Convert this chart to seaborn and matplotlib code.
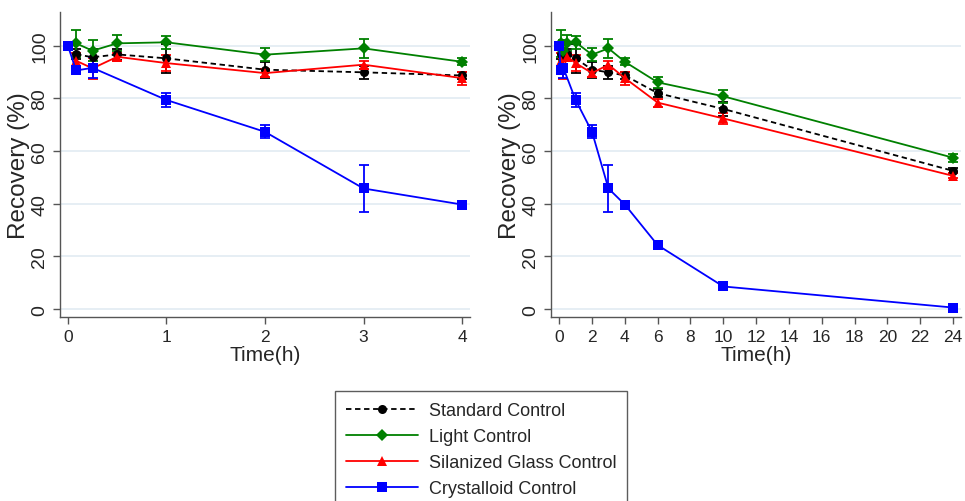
import numpy as np
import pandas as pd
import matplotlib
matplotlib.use("Agg")
import matplotlib.pyplot as plt
import seaborn as sns

sns.set_style("white")
plt.rcParams['font.family'] = ['Liberation Sans', 'DejaVu Sans']

# Sampling times (h)
times = [0, 0.083, 0.25, 0.5, 1, 2, 3, 4, 6, 10, 24]

# Mean recovery (%) per group
standard = [np.nan, 96.8, 95.6, 96.7, 95.2, 90.9, 89.9, 88.7, 82.0, 76.0, 52.5]
light = [np.nan, 100.9, 98.1, 100.9, 101.3, 96.6, 99.0, 93.9, 86.1, 80.8, 57.5]
silanized = [np.nan, 94.3, 91.4, 95.8, 93.4, 89.6, 92.8, 87.7, 78.4, 72.4, 50.6]
crystalloid = [100, 90.6, 91.6, np.nan, 79.4, 67.3, 45.8, 39.7, 24.3, 8.6, 0.6]

# Error bar half-widths
standard_err = [0, 2.0, 3.0, 2.0, 5.5, 3.0, 2.5, 1.5, 1.5, 2.5, 1.0]
light_err = [0, 5.0, 4.0, 3.0, 2.5, 2.5, 3.5, 1.3, 2.0, 2.5, 1.5]
silanized_err = [0, 3.0, 4.0, 1.5, 3.0, 1.5, 1.5, 2.5, 1.5, 2.0, 1.0]
crystalloid_err = [0, 1.5, 4.0, 0, 2.5, 2.5, 9.0, 0.8, 0.7, 0.7, 0.5]

groups = ['Standard Control', 'Light Control', 'Silanized Glass Control', 'Crystalloid Control']
means = [standard, light, silanized, crystalloid]
errs = [standard_err, light_err, silanized_err, crystalloid_err]
colors = {'Standard Control': 'black', 'Light Control': '#008000',
          'Silanized Glass Control': '#ff0000', 'Crystalloid Control': '#0000ff'}
markers = {'Standard Control': 'o', 'Light Control': 'D',
           'Silanized Glass Control': '^', 'Crystalloid Control': 's'}
dashes = {'Standard Control': (3, 2), 'Light Control': '',
          'Silanized Glass Control': '', 'Crystalloid Control': ''}

rows = []
for g, m, e in zip(groups, means, errs):
    for t, v, ee in zip(times, m, e):
        rows.append({'Time': t, 'Recovery': v, 'err': ee, 'Group': g})
df = pd.DataFrame(rows).dropna()

fig = plt.figure(figsize=(9.65, 5.02), dpi=100)
ax1 = fig.add_axes([0.0622, 0.3665, 0.4248, 0.6076])
ax2 = fig.add_axes([0.571, 0.3665, 0.425, 0.6076])

grid_color = '#e2ebf2'
for ax, tmax, xlim, xticks in [(ax1, 4, (-0.08, 4.08), range(0, 5)),
                               (ax2, 24, (-0.5, 24.5), range(0, 25, 2))]:
    sub = df[df['Time'] <= tmax]
    for yv in range(0, 101, 20):
        ax.axhline(yv, color=grid_color, lw=1.2, zorder=0)
    for g in groups:
        d = sub[sub['Group'] == g]
        ax.errorbar(d['Time'], d['Recovery'], yerr=d['err'], fmt='none',
                    ecolor=colors[g], elinewidth=1.3, capsize=3.5, capthick=1.3, zorder=2)
    sns.lineplot(data=sub, x='Time', y='Recovery', hue='Group', style='Group',
                 hue_order=groups, style_order=groups, palette=colors,
                 markers=markers, dashes=dashes, markersize=6.5, markeredgewidth=0,
                 linewidth=1.3, ax=ax, legend=(ax is ax1), zorder=3)
    ax.set_xlim(*xlim)
    ax.set_ylim(-3, 112.8)
    ax.set_xticks(list(xticks))
    ax.set_yticks(range(0, 101, 20))
    ax.tick_params(axis='x', labelsize=12.5)
    ax.tick_params(axis='y', labelsize=14)
    ax.tick_params(axis='both', length=5, width=1, color='#555555',
                   direction='out', left=True, bottom=True)
    for lab in ax.get_yticklabels():
        lab.set_rotation(90)
        lab.set_va('center')
    ax.set_xlabel('Time(h)', fontsize=15, labelpad=1)
    ax.set_ylabel('Recovery (%)', fontsize=17.5, labelpad=1)
    for s in ['top', 'right']:
        ax.spines[s].set_visible(False)
    for s in ['left', 'bottom']:
        ax.spines[s].set_color('#555555')
        ax.spines[s].set_linewidth(1)

handles, labels = ax1.get_legend_handles_labels()
ax1.get_legend().remove()
leg = fig.legend(handles, labels, loc='upper left', bbox_to_anchor=(0.347, 0.219),
                 fontsize=13, frameon=True, fancybox=False, handlelength=4.0,
                 handletextpad=0.6, labelspacing=0.5, borderpad=0.6, borderaxespad=0)
leg.get_frame().set_edgecolor('#333333')
leg.get_frame().set_linewidth(1)

fig.savefig('out.png', dpi=100)
